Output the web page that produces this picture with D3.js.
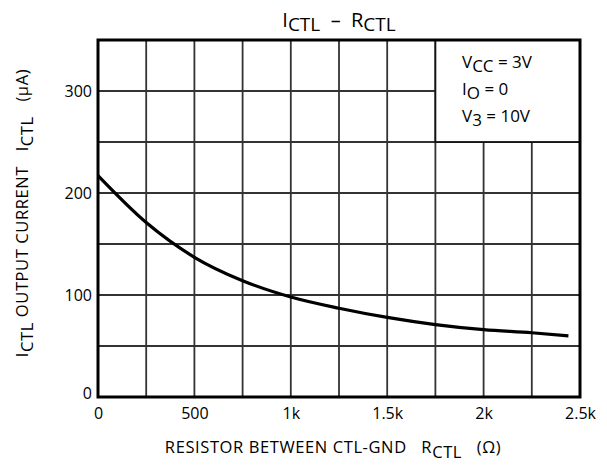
<!DOCTYPE html>
<html>
<head>
<meta charset="utf-8">
<script src="https://cdn.jsdelivr.net/npm/d3@7"></script>
<style>
  body { margin: 0; background: #fff; }
  text { font-family: "Open Sans", sans-serif; fill: #000; white-space: pre; }
</style>
</head>
<body>
<svg class="chart" width="607" height="466"></svg>
<script>
// curve
const rctl = [0, 250, 500, 750, 1000, 1250, 1500, 1750, 2000, 2250, 2440];
const ictl = [217, 171, 137, 114, 98, 87, 78, 71, 66, 63, 60];

const xTicks = [0, 500, 1000, 1500, 2000, 2500];
const xTickLabels = ["0", "500", "1k", "1.5k", "2k", "2.5k"];
const yTicks = [0, 100, 200, 300];
const xGrid = [250, 500, 750, 1000, 1250, 1500, 1750, 2000, 2250];
const yGrid = [50, 100, 150, 200, 250, 300];

const margin = { top: 40, right: 27, bottom: 69, left: 98 };
const width = 607 - margin.left - margin.right;
const height = 466 - margin.top - margin.bottom;

const svg = d3.select(".chart");
const g = svg.append("g").attr("transform", `translate(${margin.left},${margin.top})`);

const x = d3.scaleLinear().domain([0, 2500]).range([0, width]);
const y = d3.scaleLinear().domain([0, 350]).range([height, 0]);

// grid
g.selectAll(".vgrid")
  .data(xGrid)
  .join("line")
  .attr("x1", (d) => x(d)).attr("x2", (d) => x(d))
  .attr("y1", 0).attr("y2", height)
  .attr("stroke", "#333").attr("stroke-width", 1.8);

g.selectAll(".hgrid")
  .data(yGrid)
  .join("line")
  .attr("x1", 0).attr("x2", width)
  .attr("y1", (d) => y(d)).attr("y2", (d) => y(d))
  .attr("stroke", "#333").attr("stroke-width", 1.8);

// condition box covers the grid in the top right corner
g.append("rect")
  .attr("x", x(1750)).attr("y", 0)
  .attr("width", x(2500) - x(1750)).attr("height", y(250))
  .attr("fill", "#fff").attr("stroke", "#111").attr("stroke-width", 1.8);

// curve
const line = d3.line()
  .x((d, i) => x(rctl[i]))
  .y((d) => y(d))
  .curve(d3.curveMonotoneX);

g.append("path")
  .datum(ictl)
  .attr("d", line)
  .attr("fill", "none")
  .attr("stroke", "#000")
  .attr("stroke-width", 3.2);

// frame
g.append("rect")
  .attr("width", width).attr("height", height)
  .attr("fill", "none").attr("stroke", "#000").attr("stroke-width", 3);

// axes (labels only, frame drawn above)
const xAxis = g.append("g")
  .attr("transform", `translate(0,${height})`)
  .call(d3.axisBottom(x).tickValues(xTicks).tickSize(0).tickPadding(11)
    .tickFormat((d, i) => xTickLabels[i]));
const yAxis = g.append("g")
  .call(d3.axisLeft(y).tickValues(yTicks).tickSize(0).tickPadding(6));
[xAxis, yAxis].forEach((a) => {
  a.select(".domain").remove();
  a.selectAll("text").style("font-size", "16px").style("font-family", "'Open Sans', sans-serif");
});
yAxis.selectAll("text").filter((d) => d === 0).attr("dy", "0.1em");

// title
const title = svg.append("text")
  .attr("x", margin.left + width / 2)
  .attr("y", 27)
  .attr("text-anchor", "middle");
title.append("tspan").attr("font-size", 20).text("I");
title.append("tspan").attr("font-size", 19).attr("dy", 4).text("CTL");
title.append("tspan").attr("font-size", 20).attr("dy", -4).text("  –  ");
title.append("tspan").attr("font-size", 20).text("R");
title.append("tspan").attr("font-size", 19).attr("dy", 4).text("CTL");

// conditions
const conds = [
  ["V", "CC", " = 3V"],
  ["I", "O", " = 0"],
  ["V", "3", " = 10V"]
];
conds.forEach(([a, sub, rest], i) => {
  const t = svg.append("text")
    .attr("x", 462)
    .attr("y", 68 + i * 27)
    .attr("font-size", 17);
  t.append("tspan").text(a);
  t.append("tspan").attr("dy", 4).text(sub);
  t.append("tspan").attr("dy", -4).text(rest);
});

// x axis label
const xl = svg.append("text")
  .attr("x", 333)
  .attr("y", 453)
  .attr("text-anchor", "middle")
  .attr("font-size", 16.5)
  .attr("letter-spacing", 0.6);
xl.append("tspan").text("RESISTOR BETWEEN CTL-GND   R");
xl.append("tspan").attr("dy", 5).text("CTL");
xl.append("tspan").attr("dy", -5).text("   (Ω)");

// y axis label
const yl = svg.append("text")
  .attr("transform", "translate(28,213) rotate(-90)")
  .attr("text-anchor", "middle")
  .attr("font-size", 16.5)
  .attr("letter-spacing", 0.6);
yl.append("tspan").text("I");
yl.append("tspan").attr("dy", 5).text("CTL");
yl.append("tspan").attr("dy", -5).text(" OUTPUT CURRENT   I");
yl.append("tspan").attr("dy", 5).text("CTL");
yl.append("tspan").attr("dy", -5).text("   (μA)");
</script>
</body>
</html>
